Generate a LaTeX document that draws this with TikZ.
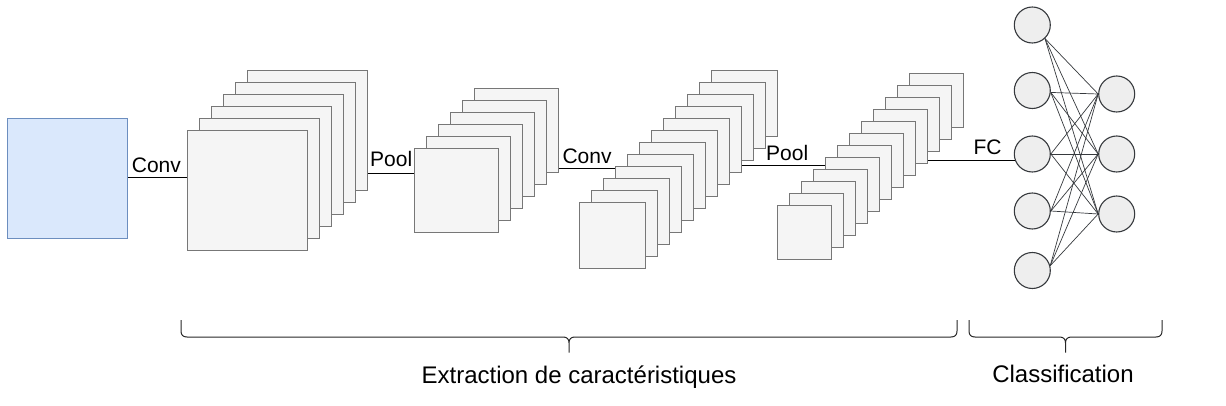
\documentclass[tikz,border=0pt]{standalone}
\usepackage{fontspec}
\setmainfont{Liberation Sans}
\definecolor{inpfill}{HTML}{DAE8FC}
\definecolor{inpline}{HTML}{6C8EBF}
\definecolor{layfill}{HTML}{F5F5F5}
\definecolor{layline}{HTML}{777777}
\definecolor{neufill}{HTML}{EEEEEE}
\definecolor{neuline}{HTML}{36393D}
\tikzset{
  layer/.style={draw=layline, fill=layfill, line width=1.3pt, inner sep=0pt, anchor=north west},
  neuron/.style={circle, draw=neuline, fill=neufill, line width=1.1pt, inner sep=0pt, minimum size=36pt},
  conn/.style={draw=black, line width=1pt},
  syn/.style={draw=neuline, line width=0.7pt},
  lbl/.style={inner sep=0pt, anchor=base west, font=\fontsize{21}{25}\selectfont},
  captxt/.style={inner sep=0pt, anchor=base, font=\fontsize{24}{28}\selectfont},
  bracel/.style={draw=black!85, line width=1pt}
}
\newcommand\mybrace[5]{%
  \draw[bracel] (#1,#3) -- (#1,{#4-6}) .. controls (#1,{#4-2}) and ({#1+2},#4) .. ({#1+6},#4)
    -- ({(#1+#2)/2-6},#4) .. controls ({(#1+#2)/2-2},#4) and ({(#1+#2)/2},{#4+2}) .. ({(#1+#2)/2},{#4+6})
    -- ({(#1+#2)/2},#5)
    ({(#1+#2)/2},{#4+6}) .. controls ({(#1+#2)/2},{#4+2}) and ({(#1+#2)/2+2},#4) .. ({(#1+#2)/2+6},#4)
    -- ({#2-6},#4) .. controls ({#2-2},#4) and (#2,{#4-2}) .. (#2,{#4-6}) -- (#2,#3);}
\begin{document}
\begin{tikzpicture}[x=1pt,y=-1pt]
\useasboundingbox (0,0) rectangle (1226,406);
% input
\node[draw=inpline, fill=inpfill, line width=1.1pt, inner sep=0pt, anchor=north west,
      minimum width=120pt, minimum height=120pt] (inp) at (7,118) {};
% stacks (back to front)
\foreach \i in {5,...,0}
  \node[layer, minimum size=120pt] (sa\i) at ({187+12*\i},{130-12*\i}) {};
\foreach \i in {5,...,0}
  \node[layer, minimum size=84pt] (sb\i) at ({414+12*\i},{148-12*\i}) {};
\foreach \i in {11,...,0}
  \node[layer, minimum size=66pt] (sc\i) at ({579+12*\i},{202-12*\i}) {};
\foreach \i in {11,...,0}
  \node[layer, minimum size=54pt] (sd\i) at ({777+12*\i},{205-12*\i}) {};
% neurons
\foreach \n/\y in {1/25,2/90.5,3/154,4/211,5/270.5}
  \node[neuron] (L\n) at (1032.3,\y) {};
\foreach \n/\y in {1/94,2/154,3/214}
  \node[neuron] (R\n) at (1116.7,\y) {};
% synapses
\foreach \j in {1,2,3}{
  \draw[syn] (L1.-47) -- (R\j.west);
  \draw[syn] (L2.-6) -- (R\j.west);
  \draw[syn] (L3.east) -- (R\j.west);
  \draw[syn] (L4.0) -- (R\j.west);
  \draw[syn] (L5.15) -- (R\j.west);
}
% connectors
\coordinate (c1) at (0,177.7);
\coordinate (c2) at (0,173.3);
\coordinate (c3) at (0,168.7);
\coordinate (c4) at (0,165.7);
\draw[conn] (inp.east |- c1) -- (sa0.west |- c1);
\draw[conn] (sa5.east |- c2) -- (sb0.west |- c2);
\draw[conn] (sb5.east |- c3) -- (sc3.west |- c3);
\draw[conn] (sc8.east |- c4) -- (sd4.west |- c4);
\draw[conn] (sd8.east |- L3.200) -- (L3.200);
% labels
\node[lbl] (t1) at (131.7,172.7) {Conv};
\node[lbl] (t2) at (370,166.7) {Pool};
\node[lbl] (t3) at (562.3,163.3) {Conv};
\node[lbl] (t4) at (766,160.7) {Pool};
\node[lbl] (t5) at (973.3,155) {FC};
% braces
\mybrace{181}{957}{320}{337}{352.5}
\mybrace{969}{1162}{320}{337}{352.5}
\node[captxt] (e1) at (579,383) {Extraction de caractéristiques};
\node[captxt] (e2) at (1063,382.7) {Classification};
\end{tikzpicture}
\end{document}
